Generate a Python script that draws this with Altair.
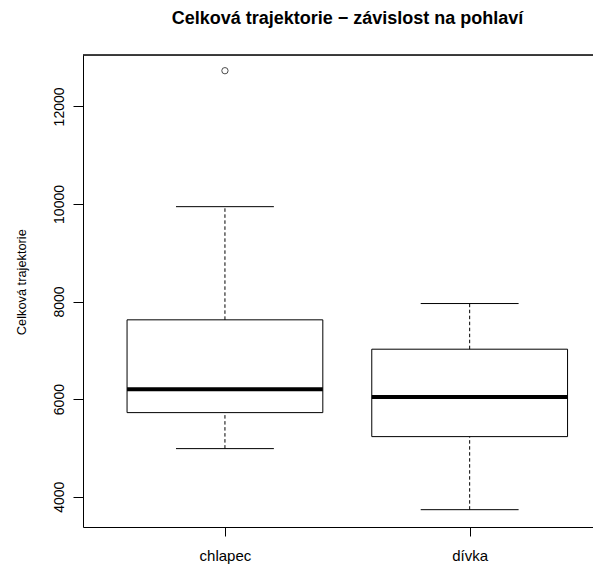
import altair as alt
import pandas as pd

# ---- data ----
groups = ["chlapec", "dívka"]
positions = [1, 2]
lower_whisker = [4985, 3733]
q1 = [5723, 5231]
median = [6203, 6045]
q3 = [7625, 7023]
upper_whisker = [9945, 7959]

outlier_groups = ["chlapec"]
outlier_values = [12732]

y_ticks = [4000, 6000, 8000, 10000, 12000]

TITLE = "Celková trajektorie − závislost na pohlaví"
Y_TITLE = "Celková trajektorie"

# ---- layout ----
FONT = "Liberation Sans"
PLOT_W = 510
PLOT_H = 472
X_DOMAIN = [0.42, 2.504]
Y_DOMAIN = [3378, 13054]
BOX_HALF = 0.4
CAP_HALF = 0.2

df = pd.DataFrame({
    "group": groups,
    "pos": positions,
    "lo": lower_whisker,
    "q1": q1,
    "med": median,
    "q3": q3,
    "hi": upper_whisker,
})
pos_of = dict(zip(groups, positions))
out_df = pd.DataFrame({
    "group": outlier_groups,
    "pos": [pos_of[g] for g in outlier_groups],
    "value": outlier_values,
})

label_expr = " : ".join(
    [f"datum.value == {p} ? '{g}'" for g, p in zip(groups, positions)]
) + " : ''"

xscale = alt.Scale(domain=X_DOMAIN, nice=False, zero=False)
yscale = alt.Scale(domain=Y_DOMAIN, nice=False, zero=False)

x_axis = alt.Axis(
    values=positions, labelExpr=label_expr, tickSize=9, labelPadding=24,
    labelBaseline="alphabetic", labelFontSize=15, labelFont=FONT,
    grid=False, domainColor="black", tickColor="black", labelColor="black",
    labelFlush=False, labelOverlap=False,
)
y_axis = alt.Axis(
    values=y_ticks, format="d", labelAngle=270, labelAlign="center",
    labelBaseline="alphabetic", labelPadding=10, tickSize=10,
    labelFontSize=14, labelFont=FONT, grid=False,
    domainColor="black", tickColor="black", labelColor="black",
    labelFlush=False, labelOverlap=False,
    titleAngle=270, titleX=-57.5, titleY=226.7,
    titleAlign="center", titleBaseline="alphabetic", titleFontSize=12.8,
    titleFont=FONT, titleFontWeight="normal", titleColor="black",
)


def X(field):
    return alt.X(field, scale=xscale, axis=x_axis, title="")


def Y(field):
    return alt.Y(field, scale=yscale, axis=y_axis, title=Y_TITLE)


base = alt.Chart(df).transform_calculate(
    x_lo=f"datum.pos - {BOX_HALF}",
    x_hi=f"datum.pos + {BOX_HALF}",
    c_lo=f"datum.pos - {CAP_HALF}",
    c_hi=f"datum.pos + {CAP_HALF}",
)

box = base.mark_rect(fill="white", stroke="black", strokeWidth=1).encode(
    x=X("x_lo:Q"), x2="x_hi:Q", y=Y("q1:Q"), y2="q3:Q",
)

med = base.mark_rule(color="black", strokeWidth=4, strokeCap="butt").encode(
    x=X("x_lo:Q"), x2="x_hi:Q", y=Y("med:Q"),
)

whisk_lo = base.mark_rule(color="black", strokeWidth=1, strokeDash=[3.5, 2.5]).encode(
    x=X("pos:Q"), y=Y("lo:Q"), y2="q1:Q",
)
whisk_hi = base.mark_rule(color="black", strokeWidth=1, strokeDash=[3.5, 2.5]).encode(
    x=X("pos:Q"), y=Y("q3:Q"), y2="hi:Q",
)
cap_lo = base.mark_rule(color="black", strokeWidth=1).encode(
    x=X("c_lo:Q"), x2="c_hi:Q", y=Y("lo:Q"),
)
cap_hi = base.mark_rule(color="black", strokeWidth=1).encode(
    x=X("c_lo:Q"), x2="c_hi:Q", y=Y("hi:Q"),
)

outl = alt.Chart(out_df).mark_point(
    shape="circle", filled=False, color="black", size=40, strokeWidth=1
).encode(
    x=X("pos:Q"), y=Y("value:Q"),
)

top_border = alt.Chart(df).mark_rule(color="black", strokeWidth=1).encode(
    x=alt.value(0), x2=alt.value(PLOT_W), y=alt.value(0)
)

chart = alt.layer(
    box, whisk_lo, whisk_hi, cap_lo, cap_hi, med, outl, top_border
).properties(
    width=PLOT_W,
    height=PLOT_H,
    title=alt.Title(
        TITLE, font=FONT, fontSize=18, fontWeight="bold", color="black",
        anchor="middle", dx=9.5, offset=27,
    ),
    autosize=alt.AutoSizeParams(type="none"),
    padding={"left": 75, "top": 47, "right": 0, "bottom": 38},
).configure_view(
    stroke=None
).configure(background="white")

chart.save("out.html", embed_options={"renderer": "svg", "actions": False})
